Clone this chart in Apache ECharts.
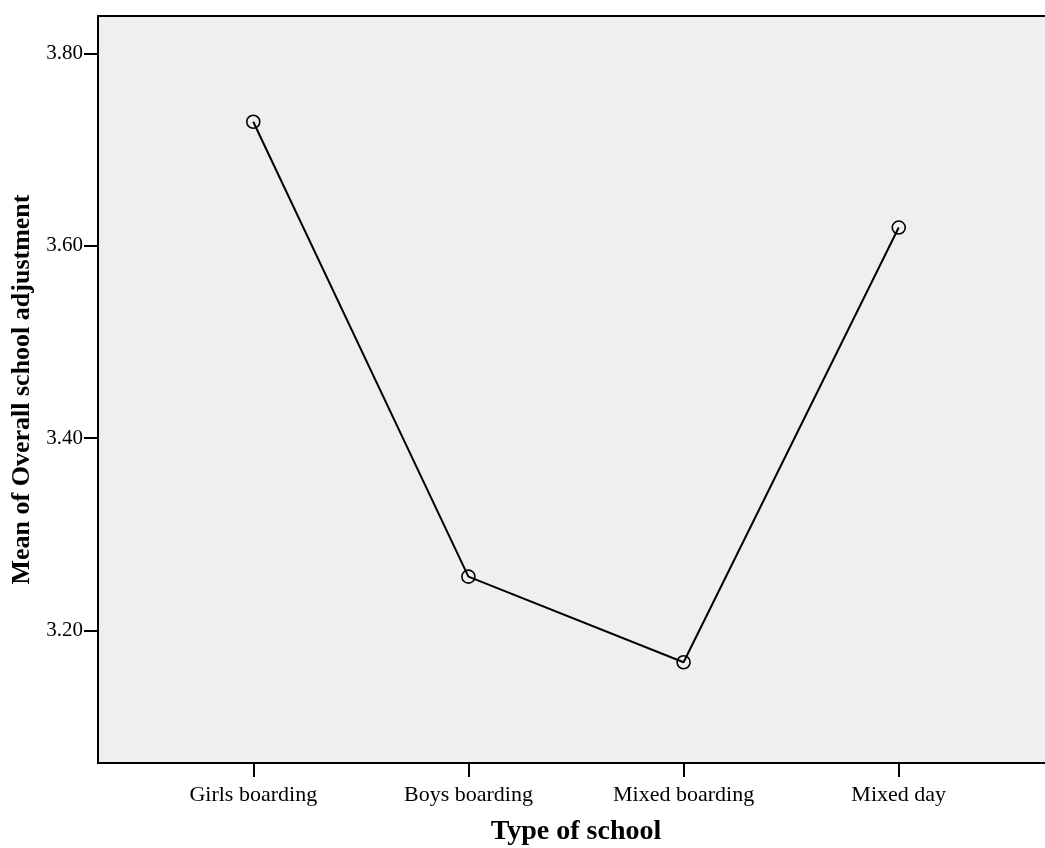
<!DOCTYPE html>
<html>
<head>
<meta charset="utf-8">
<script src="https://cdn.jsdelivr.net/npm/echarts@6/dist/echarts.min.js"></script>
<style>html,body{margin:0;padding:0;background:#fff}#c{width:1045px;height:848px}</style>
</head>
<body>
<div id="c"></div>
<script>
const categories = ['Girls boarding', 'Boys boarding', 'Mixed boarding', 'Mixed day'];
const meanValues = [3.729, 3.256, 3.167, 3.619];
const yTicks = [3.20, 3.40, 3.60, 3.80];
const xTitle = 'Type of school';
const yTitle = 'Mean of Overall school adjustment';

const font = 'Liberation Serif, Times New Roman, serif';
const chart = echarts.init(document.getElementById('c'), null, {renderer: 'canvas'});
chart.setOption({
  animation: false,
  backgroundColor: '#ffffff',
  grid: {
    left: 98, top: 16, right: -9, bottom: 85,
    containLabel: false, outerBoundsMode: 'none',
    show: true, backgroundColor: '#efefef', borderColor: '#000', borderWidth: 2
  },
  xAxis: {
    type: 'value', min: -0.7217, max: 3.7217,
    name: xTitle, nameLocation: 'middle', nameGap: 55,
    nameTextStyle: {fontFamily: font, fontSize: 28, fontWeight: 'bold', color: '#000'},
    axisLine: {show: true, onZero: false, lineStyle: {color: '#000', width: 2}},
    axisTick: {show: true, length: 14, lineStyle: {color: '#000', width: 2},
      customValues: categories.map((c, i) => i)},
    axisLabel: {customValues: categories.map((c, i) => i), margin: 21,
      formatter: v => categories[Math.round(v)] || '',
      fontFamily: font, fontSize: 22, color: '#000'},
    splitLine: {show: false}
  },
  yAxis: {
    type: 'value', min: 3.0622, max: 3.839,
    name: yTitle, nameLocation: 'middle', nameGap: 59, nameRotate: 90,
    nameTextStyle: {fontFamily: font, fontSize: 26, fontWeight: 'bold', color: '#000'},
    axisLine: {show: true, onZero: false, lineStyle: {color: '#000', width: 2}},
    axisTick: {show: true, length: 14, lineStyle: {color: '#000', width: 2}, customValues: yTicks},
    axisLabel: {customValues: yTicks, margin: 15, formatter: v => v.toFixed(2),
      fontFamily: font, fontSize: 21, color: '#000'},
    splitLine: {show: false}
  },
  series: [{
    type: 'line',
    data: meanValues.map((v, i) => [i, v]),
    symbol: 'circle', symbolSize: 13,
    lineStyle: {color: '#000', width: 2},
    itemStyle: {color: 'rgba(0,0,0,0)', borderColor: '#000', borderWidth: 1.6},
    z: 3
  }]
});
</script>
</body>
</html>
